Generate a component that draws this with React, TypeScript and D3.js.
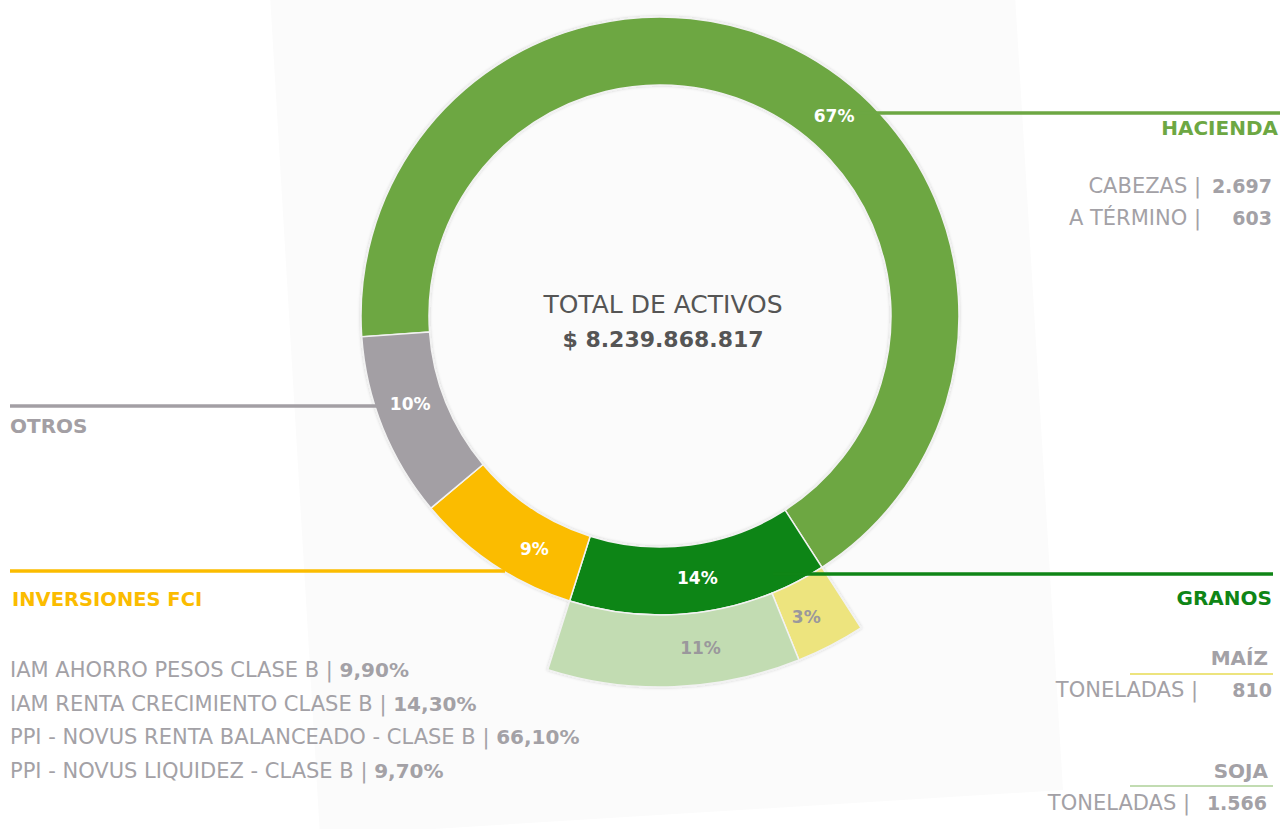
import React from "react";
import * as d3 from "d3";

// ---- data ----
const categories = ["HACIENDA", "GRANOS", "INVERSIONES FCI", "OTROS"];
const shares = [67, 14, 9, 10];
const colors = ["#6da743", "#0f8516", "#fbbc00", "#a39fa4"];

const granosSub = ["MAÍZ", "SOJA"];
const granosShares = [3, 11];
const granosColors = ["#ede47e", "#c2dcb2"];

const haciendaRows = [
  { label: "CABEZAS |", value: "2.697" },
  { label: "A TÉRMINO |", value: "603" },
];
const granosRows = [
  { label: "TONELADAS |", value: "810" },
  { label: "TONELADAS |", value: "1.566" },
];
const fciFunds = [
  "IAM AHORRO PESOS CLASE B",
  "IAM RENTA CRECIMIENTO CLASE B",
  "PPI - NOVUS RENTA BALANCEADO - CLASE B",
  "PPI - NOVUS LIQUIDEZ - CLASE B",
];
const fciShares = ["9,90%", "14,30%", "66,10%", "9,70%"];
const totalLabel = "TOTAL DE ACTIVOS";
const totalValue = "$ 8.239.868.817";

// ---- layout ----
const W = 1280;
const H = 829;
const cx = 660;
const cy = 316;
const rIn = 231;
const rOut = 299;
const rOuter2 = 371;
const startDeg = -94;
const labelFrac = [0.56, 0.49, 0.33, 0.57];
const subLabelFrac = [0.64, 0.38];
const FONT = "'DejaVu Sans', sans-serif";
const GRAY = "#a3a1a6";

export default function App() {
  const start = (startDeg * Math.PI) / 180;
  const pie = d3
    .pie<number>()
    .sort(null)
    .value((d) => d)
    .startAngle(start)
    .endAngle(start + 2 * Math.PI);
  const arcs = pie(shares);
  const arc = d3.arc<d3.PieArcDatum<number>>().innerRadius(rIn).outerRadius(rOut);
  const arc2 = d3.arc<d3.PieArcDatum<number>>().innerRadius(rOut).outerRadius(rOuter2);

  const g = arcs[1];
  const subPie = d3
    .pie<number>()
    .sort(null)
    .value((d) => d)
    .startAngle(g.startAngle)
    .endAngle(g.endAngle);
  const subArcs = subPie(granosShares);

  const labelPos = (a: d3.PieArcDatum<number>, frac: number, r: number) => {
    const ang = a.startAngle + (a.endAngle - a.startAngle) * frac;
    return [Math.sin(ang) * r, -Math.cos(ang) * r];
  };

  return (
    <svg
      width={W}
      height={H}
      style={{ position: "absolute", left: 0, top: 0, background: "#fff" }}
      fontFamily={FONT}
    >
      <defs>
        <filter id="sh" x="-10%" y="-10%" width="120%" height="120%">
          <feDropShadow dx="0" dy="0" stdDeviation="1.5" floodColor="#000" floodOpacity="0.18" />
        </filter>
      </defs>
      <polygon points="270,-5 1015,-5 1063,790 320,836" fill="#fbfbfb" />

      <g transform={`translate(${cx},${cy})`}>
        <g filter="url(#sh)">
          {arcs.map((a, i) => (
            <path key={i} d={arc(a) || ""} fill={colors[i]} stroke="#f2f2f2" strokeWidth={1.5} />
          ))}
          {subArcs.map((a, i) => (
            <path key={"s" + i} d={arc2(a) || ""} fill={granosColors[i]} stroke="#f2f2f2" strokeWidth={1.5} />
          ))}
        </g>
      </g>

      {/* leader lines */}
      <line x1={853} x2={1280} y1={113} y2={113} stroke={colors[0]} strokeWidth={3.5} />
      <line x1={10} x2={380} y1={406} y2={406} stroke={colors[3]} strokeWidth={3.5} />
      <line x1={10} x2={505} y1={571} y2={571} stroke={colors[2]} strokeWidth={3.5} />
      <line x1={773} x2={1273} y1={574} y2={574} stroke={colors[1]} strokeWidth={3.5} />
      <line x1={1130} x2={1273} y1={674} y2={674} stroke={granosColors[0]} strokeWidth={2} />
      <line x1={1130} x2={1273} y1={786} y2={786} stroke={granosColors[1]} strokeWidth={2} />

      <g transform={`translate(${cx},${cy})`}>
        {arcs.map((a, i) => {
          const [x, y] = labelPos(a, labelFrac[i], (rIn + rOut) / 2);
          return (
            <text key={i} x={x} y={y} dy="0.35em" textAnchor="middle" fill="#fff" fontWeight="bold" fontSize={17}>
              {shares[i]}%
            </text>
          );
        })}
        {subArcs.map((a, i) => {
          const [x, y] = labelPos(a, subLabelFrac[i], (rOut + rOuter2) / 2);
          return (
            <text key={"s" + i} x={x} y={y} dy="0.35em" textAnchor="middle" fill="#9a989c" fontWeight="bold" fontSize={17}>
              {granosShares[i]}%
            </text>
          );
        })}
        <text x={3} y={-3} textAnchor="middle" fill="#555" fontSize={25}>
          {totalLabel}
        </text>
        <text x={3} y={31} textAnchor="middle" fill="#555" fontSize={22} fontWeight="bold">
          {totalValue}
        </text>
      </g>

      {/* Hacienda block */}
      <text x={1278} y={135} textAnchor="end" fill={colors[0]} fontWeight="bold" fontSize={20}>
        {categories[0]}
      </text>
      {haciendaRows.map((r, i) => (
        <g key={i}>
          <text x={1201} y={193 + i * 32} textAnchor="end" fill={GRAY} fontSize={21}>
            {r.label}
          </text>
          <text x={1272} y={193 + i * 32} textAnchor="end" fill={GRAY} fontSize={19} fontWeight="bold">
            {r.value}
          </text>
        </g>
      ))}

      {/* Otros */}
      <text x={10} y={433} fill={colors[3]} fontWeight="bold" fontSize={20}>
        {categories[3]}
      </text>

      {/* Inversiones */}
      <text x={12} y={606} fill={colors[2]} fontWeight="bold" fontSize={19.5}>
        {categories[2]}
      </text>
      {fciFunds.map((f, i) => (
        <text key={i} x={10} y={677 + i * 33.5} fill={GRAY} fontSize={21}>
          {f} | <tspan fontWeight="bold" fontSize={20}>{fciShares[i]}</tspan>
        </text>
      ))}

      {/* Granos */}
      <text x={1272} y={605} textAnchor="end" fill={colors[1]} fontWeight="bold" fontSize={20}>
        {categories[1]}
      </text>
      {granosSub.map((s, i) => (
        <g key={i}>
          <text x={1268} y={665 + i * 113} textAnchor="end" fill={GRAY} fontWeight="bold" fontSize={20}>
            {s}
          </text>
          <text x={1198 - i * 8} y={697 + i * 113} textAnchor="end" fill={GRAY} fontSize={21}>
            {granosRows[i].label}
          </text>
          <text x={1272 - i * 5} y={697 + i * 113} textAnchor="end" fill={GRAY} fontSize={19} fontWeight="bold">
            {granosRows[i].value}
          </text>
        </g>
      ))}
    </svg>
  );
}
